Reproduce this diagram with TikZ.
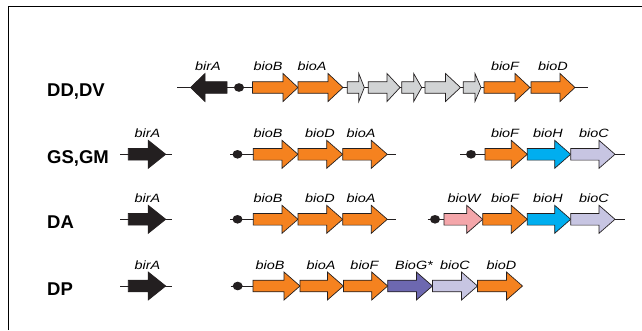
\documentclass[tikz,border=0pt]{standalone}
\usepackage{fontspec}
\setmainfont{Liberation Sans}
\newfontfamily\labfont[FakeStretch=1.2]{Liberation Sans}
\definecolor{gorange}{HTML}{F5821F}
\definecolor{ggray}{HTML}{D1D3D4}
\definecolor{gcyan}{HTML}{00AEEF}
\definecolor{glav}{HTML}{C7C5E2}
\definecolor{gpink}{HTML}{F4A6AA}
\definecolor{gpurple}{HTML}{6D68B0}
\definecolor{gblack}{HTML}{231F20}
\tikzset{
  genestyle/.style={draw=gblack, line width=0.7pt, line join=miter},
  backbone/.style={draw=gblack, line width=0.9pt},
  genelabel/.style={anchor=base, inner sep=0pt, font=\labfont\fontsize{12}{14}\selectfont\itshape},
  rowlabel/.style={anchor=base west, inner sep=0pt, font=\fontsize{18.5}{20}\selectfont\bfseries},
  promoter/.style={fill=gblack, draw=none}
}
% \gene{start}{tip}{headlength}{y}{colour}
\newcommand\gene[5]{%
  \path[genestyle, fill=#5] (#1,#4-5.8) -- (#2-#3,#4-5.8) -- (#2-#3,#4-14) -- (#2,#4)
    -- (#2-#3,#4+14) -- (#2-#3,#4+5.8) -- (#1,#4+5.8) -- cycle;}
% reversed gene: start > tip
\newcommand\revgene[5]{%
  \path[genestyle, fill=#5] (#1,#4-5.8) -- (#2+#3,#4-5.8) -- (#2+#3,#4-14) -- (#2,#4)
    -- (#2+#3,#4+14) -- (#2+#3,#4+5.8) -- (#1,#4+5.8) -- cycle;}
\newcommand\prom[2]{\fill[promoter] (#1,#2) ellipse[x radius=5, y radius=4.3];}
\newcommand\glab[4]{\node[genelabel] (#4) at (#1,#2) {#3};}
\begin{document}
\begin{tikzpicture}[x=1pt,y=-1pt]
\useasboundingbox (0,0) rectangle (642,330);
% frame
\draw[line width=1pt] (8.5,330) -- (8.5,6.5) -- (642,6.5);

% ---------- Row 1: DD,DV ----------
\def\ya{87.5}
\node[rowlabel] (r1) at (47,\ya+9) {DD,DV};
\draw[backbone] (177,\ya) -- (588,\ya);
\revgene{227}{190.5}{14.5}{\ya}{gblack}
\prom{239}{\ya}
\gene{252.5}{298}{15}{\ya}{gorange}
\gene{298}{343}{15}{\ya}{gorange}
\gene{347.3}{364.3}{5.5}{\ya}{ggray}
\gene{368.3}{400}{13}{\ya}{ggray}
\gene{401.7}{421.7}{8}{\ya}{ggray}
\gene{425}{460.5}{15}{\ya}{ggray}
\gene{463.3}{481}{6}{\ya}{ggray}
\gene{484}{530}{15}{\ya}{gorange}
\gene{531}{575}{15}{\ya}{gorange}
\glab{208}{\ya-17.5}{birA}{l1a}
\glab{268}{\ya-17.5}{bioB}{l1b}
\glab{312}{\ya-17.5}{bioA}{l1c}
\glab{505}{\ya-17.5}{bioF}{l1d}
\glab{553}{\ya-17.5}{bioD}{l1e}

% ---------- Row 2: GS,GM ----------
\def\yb{154.3}
\node[rowlabel] (r2) at (47,\yb+9) {GS,GM};
\draw[backbone] (120,\yb) -- (171.7,\yb);
\gene{128.3}{165.7}{17.5}{\yb}{gblack}
\draw[backbone] (230,\yb) -- (396,\yb);
\prom{237.5}{\yb}
\gene{253.3}{298}{16}{\yb}{gorange}
\gene{298}{342.7}{16}{\yb}{gorange}
\gene{342.7}{387.3}{16}{\yb}{gorange}
\draw[backbone] (460,\yb) -- (625,\yb);
\prom{471}{\yb}
\gene{485}{527.3}{16}{\yb}{gorange}
\gene{527.3}{570.7}{16}{\yb}{gcyan}
\gene{570.7}{615}{16}{\yb}{glav}
\glab{147.5}{\yb-17}{birA}{l2a}
\glab{268}{\yb-17}{bioB}{l2b}
\glab{320}{\yb-17}{bioD}{l2c}
\glab{361}{\yb-17}{bioA}{l2d}
\glab{505}{\yb-17}{bioF}{l2e}
\glab{548}{\yb-17}{bioH}{l2f}
\glab{594}{\yb-17}{bioC}{l2g}

% ---------- Row 3: DA ----------
\def\yc{219.3}
\node[rowlabel] (r3) at (47,\yc+9) {DA};
\draw[backbone] (120,\yc) -- (171.7,\yc);
\gene{128.3}{165.7}{17.5}{\yc}{gblack}
\draw[backbone] (230,\yc) -- (396,\yc);
\prom{237.5}{\yc}
\gene{253.3}{298}{16}{\yc}{gorange}
\gene{298}{342.7}{16}{\yc}{gorange}
\gene{342.7}{387.3}{16}{\yc}{gorange}
\draw[backbone] (427.7,\yc) -- (625,\yc);
\prom{435}{\yc}
\gene{444}{482.7}{16}{\yc}{gpink}
\gene{482.7}{527.3}{16}{\yc}{gorange}
\gene{527.3}{570.7}{16}{\yc}{gcyan}
\gene{570.7}{615}{16}{\yc}{glav}
\glab{147.5}{\yc-17}{birA}{l3a}
\glab{268}{\yc-17}{bioB}{l3b}
\glab{320}{\yc-17}{bioD}{l3c}
\glab{361}{\yc-17}{bioA}{l3d}
\glab{464}{\yc-17}{bioW}{l3e}
\glab{505}{\yc-17}{bioF}{l3f}
\glab{548}{\yc-17}{bioH}{l3g}
\glab{594}{\yc-17}{bioC}{l3h}

% ---------- Row 4: DP ----------
\def\yd{286}
\node[rowlabel] (r4) at (47,\yd+9) {DP};
\draw[backbone] (120,\yd) -- (171.7,\yd);
\gene{128.3}{165.7}{17.5}{\yd}{gblack}
\draw[backbone] (230.5,\yd) -- (253,\yd);
\prom{237.7}{\yd}
\gene{253}{300}{16}{\yd}{gorange}
\gene{300}{343.4}{16}{\yd}{gorange}
\gene{343.4}{387.7}{16}{\yd}{gorange}
\gene{387.7}{432.4}{16}{\yd}{gpurple}
\gene{432.4}{477.5}{16}{\yd}{glav}
\gene{477.5}{522.5}{16}{\yd}{gorange}
\glab{147.5}{\yd-17}{birA}{l4a}
\glab{270}{\yd-17}{bioB}{l4b}
\glab{321}{\yd-17}{bioA}{l4c}
\glab{364.5}{\yd-17}{bioF}{l4d}
\glab{414}{\yd-17}{BioG*}{l4e}
\glab{455}{\yd-17}{bioC}{l4f}
\glab{501.5}{\yd-17}{bioD}{l4g}
\end{tikzpicture}
\end{document}
